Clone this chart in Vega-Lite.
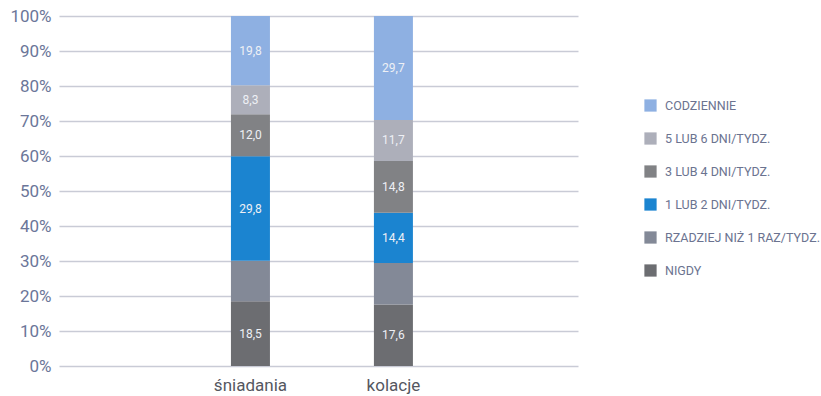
{
  "$schema": "https://vega.github.io/schema/vega-lite/v6.json",
  "width": 519,
  "height": 350,
  "autosize": "none",
  "padding": {"left": 59, "top": 16, "right": 243, "bottom": 30},
  "background": "white",
  "config": {"view": {"stroke": null}, "font": "Roboto"},
  "data": {"values": [
    {"meal": "śniadania", "cat": "NIGDY", "order": 0, "value": 18.5, "label": "18,5"},
    {"meal": "śniadania", "cat": "RZADZIEJ NIŻ 1 RAZ/TYDZ.", "order": 1, "value": 11.6, "label": ""},
    {"meal": "śniadania", "cat": "1 LUB 2 DNI/TYDZ.", "order": 2, "value": 29.8, "label": "29,8"},
    {"meal": "śniadania", "cat": "3 LUB 4 DNI/TYDZ.", "order": 3, "value": 12.0, "label": "12,0"},
    {"meal": "śniadania", "cat": "5 LUB 6 DNI/TYDZ.", "order": 4, "value": 8.3, "label": "8,3"},
    {"meal": "śniadania", "cat": "CODZIENNIE", "order": 5, "value": 19.8, "label": "19,8"},
    {"meal": "kolacje", "cat": "NIGDY", "order": 0, "value": 17.6, "label": "17,6"},
    {"meal": "kolacje", "cat": "RZADZIEJ NIŻ 1 RAZ/TYDZ.", "order": 1, "value": 11.8, "label": ""},
    {"meal": "kolacje", "cat": "1 LUB 2 DNI/TYDZ.", "order": 2, "value": 14.4, "label": "14,4"},
    {"meal": "kolacje", "cat": "3 LUB 4 DNI/TYDZ.", "order": 3, "value": 14.8, "label": "14,8"},
    {"meal": "kolacje", "cat": "5 LUB 6 DNI/TYDZ.", "order": 4, "value": 11.7, "label": "11,7"},
    {"meal": "kolacje", "cat": "CODZIENNIE", "order": 5, "value": 29.7, "label": "29,7"}
  ]},
  "encoding": {
    "x": {
      "field": "meal", "type": "nominal", "sort": ["śniadania", "kolacje"],
      "scale": {"paddingInner": 0.37, "paddingOuter": 1, "align": 0.512},
      "axis": {"title": null, "labelAngle": 0, "domain": false, "ticks": false, "labelPadding": 11,
               "labelFont": "Roboto", "labelFontSize": 17, "labelColor": "#55575f"}
    },
    "y": {
      "field": "value", "type": "quantitative", "stack": "zero",
      "scale": {"domain": [0, 100]},
      "axis": {"title": null, "values": [0, 10, 20, 30, 40, 50, 60, 70, 80, 90, 100],
               "labelExpr": "datum.value + '%'", "domain": false, "ticks": false,
               "labelPadding": 8, "labelFont": "Roboto", "labelFontSize": 17, "labelColor": "#6b7699",
               "gridColor": "#c9cbd6", "gridWidth": 1.5}
    },
    "order": {"field": "order", "type": "quantitative"}
  },
  "layer": [
    {
      "mark": {"type": "bar", "width": 39},
      "encoding": {
        "color": {
          "field": "cat", "type": "nominal",
          "scale": {
            "domain": ["CODZIENNIE", "5 LUB 6 DNI/TYDZ.", "3 LUB 4 DNI/TYDZ.", "1 LUB 2 DNI/TYDZ.", "RZADZIEJ NIŻ 1 RAZ/TYDZ.", "NIGDY"],
            "range": ["#8eb0e2", "#adafba", "#818285", "#1b84d0", "#838997", "#6c6d71"]
          },
          "legend": {
            "title": null, "orient": "none", "legendX": 585, "legendY": 83,
            "symbolType": "square", "symbolSize": 150, "symbolStrokeWidth": 0,
            "labelFont": "Roboto", "labelFontSize": 12.5, "labelColor": "#6b7390",
            "labelOffset": 8, "rowPadding": 20
          }
        }
      }
    },
    {
      "mark": {"type": "text", "color": "#eef0f5", "fontSize": 12, "font": "Roboto", "baseline": "middle"},
      "encoding": {
        "y": {"field": "value", "type": "quantitative", "stack": "zero", "bandPosition": 0.5},
        "text": {"field": "label", "type": "nominal"}
      }
    }
  ]
}
